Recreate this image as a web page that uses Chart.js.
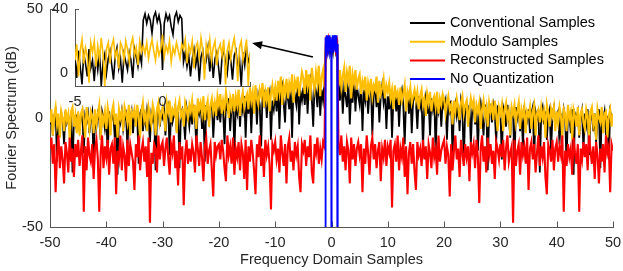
<!DOCTYPE html>
<html><head><meta charset="utf-8">
<script src="https://cdn.jsdelivr.net/npm/chart.js@4.4.1/dist/chart.umd.min.js"></script>
<style>
html,body{margin:0;padding:0;background:#fff;}
#wrap{position:relative;width:623px;height:271px;overflow:hidden;}
#wrap canvas{position:absolute;left:0;top:0;}
</style></head><body>
<div id="wrap"><canvas id="main" width="623" height="271"></canvas><canvas id="inset" width="623" height="271"></canvas></div>
<script>
// ---- sampling grids (frequency axis) ----
const freqStart = -50, freqStep = 0.25;        // main series: -50 .. 50
const noQuantStart = -1.2, noQuantStep = 0.05; // blue series: -1.2 .. 1.2
const insetStart = -5, insetStep = 0.1;        // inset series: -5 .. 5

const seriesLabels = ['Conventional Samples', 'Modulo Samples', 'Reconstructed Samples', 'No Quantization'];
const mainXTicks = [-50, -40, -30, -20, -10, 0, 10, 20, 30, 40, 50];
const mainYTicks = [-50, 0, 50];
const insetXTicks = [-5, 0];
const insetYTicks = [0, 40];

// ---- Conventional samples (dB) ----
const conventional = [
-3,2,-8,1,3,-20,0,-4,2,-1,-12,3,-2,1,-6,2,-25,0,-3,1,
2,-5,0,3,-16,1,-2,2,-7,0,3,-22,1,-4,2,-1,-10,3,0,-5,
1,-18,3,-3,0,2,-9,1,-26,2,-2,3,-5,0,2,-14,1,-1,3,-7,
3,-2,0,-21,2,4,-6,1,-3,4,0,-11,2,-1,3,-24,1,4,-4,2,
0,4,-8,2,5,-17,3,-2,1,5,-6,3,-23,2,4,-1,-10,5,1,-4,
4,-3,6,1,-14,5,2,7,-5,3,-20,6,1,-2,5,7,-9,3,6,-1,
6,-2,8,3,-12,7,4,9,-6,5,8,-16,6,2,9,-4,7,3,10,-9,
8,2,11,-7,9,5,12,-3,10,6,-13,11,7,13,0,9,12,-10,8,4,
11,3,14,-5,12,15,7,-2,16,9,4,13,-9,15,10,6,17,-3,12,8,
14,6,17,2,15,18,9,-4,16,12,5,19,1,13,8,16,35,31,37,30,
34,30,37,31,36,16,8,18,2,14,10,5,17,-3,12,7,19,3,15,10,
6,16,-6,13,8,15,2,12,16,-8,11,14,5,13,-2,10,15,7,12,-5,
10,4,13,-9,9,12,3,11,-4,10,13,6,-12,9,11,2,12,-7,8,11,
7,-5,10,5,9,-14,6,10,2,8,-8,9,4,10,-17,7,3,9,-4,8,
5,8,-10,6,3,8,-18,4,7,1,6,-6,8,4,-21,5,7,0,6,-12,
4,6,-3,5,-15,3,7,1,-8,5,6,-24,3,5,-2,6,2,-11,5,4,
3,-19,5,2,-4,6,1,-9,4,3,-22,5,0,4,-6,3,-13,4,2,-1,
4,-7,2,5,-18,3,0,4,-25,2,5,-3,3,-10,1,4,-16,2,5,-2,
1,3,-12,2,-4,4,0,-21,3,1,-7,4,-26,2,0,3,-9,1,4,-15,
2,-3,4,-17,1,3,-6,2,-11,0,4,-23,2,-1,3,-8,1,-19,3,0,
1];

// ---- Modulo samples (dB) ----
const modulo = [
-2,4,-8,1,5,-3,2,-9,3,0,-6,4,-1,2,-10,3,5,-4,1,-7,
3,-8,2,4,-1,-9,5,0,-5,3,1,-7,4,-3,2,6,-10,1,-2,3,
-5,5,1,-8,3,6,-3,2,-9,4,0,3,-6,5,2,-2,6,-8,3,1,
4,-4,6,1,-9,3,7,-1,2,-6,5,1,-3,6,3,-8,4,7,-2,2,
5,1,-6,7,3,8,-2,4,2,6,-7,5,8,1,3,-4,7,4,0,6,
3,8,1,6,-5,9,4,7,2,10,-1,5,8,-4,6,9,3,7,1,10,
6,11,2,8,4,12,7,0,9,5,11,3,10,6,13,1,8,12,5,9,
11,4,14,8,12,2,15,9,6,13,10,16,5,12,8,14,3,11,15,9,
14,8,17,12,19,6,15,11,18,9,16,13,20,7,17,14,19,10,16,21,
18,11,22,15,20,8,23,17,13,21,16,24,10,19,22,14,33,34,32,33,
33,32,34,33,32,15,22,14,19,23,12,21,17,24,9,20,16,22,13,18,
20,11,17,14,19,8,16,12,18,10,15,13,19,7,17,11,14,18,9,15,
12,16,9,13,4,15,10,12,6,14,8,11,15,3,12,9,14,7,10,13,
8,12,4,10,13,6,9,1,11,7,12,3,8,10,5,12,2,9,6,11,
9,2,7,10,4,6,-3,8,3,9,5,-1,7,10,2,6,8,-4,4,9,
5,8,-2,6,3,7,-5,4,8,1,5,-4,7,3,6,-1,8,2,-6,5,
2,6,-6,4,7,0,3,-8,5,2,6,-2,3,7,-5,4,1,5,-7,3,
1,5,-5,3,6,-8,2,4,-2,5,0,3,-9,6,2,-4,4,1,5,-6,
3,-2,5,1,-9,4,2,-6,6,0,3,-10,4,1,-4,5,-8,2,4,-2,
-5,4,1,-9,3,5,-3,2,-10,4,0,-2,5,-7,2,3,-9,1,4,-4,
2];

// ---- Reconstructed samples (dB) ----
const reconstructed = [
-14,-9,-21,-12,-34,-17,-8,-23,-13,-19,-30,-11,-16,-25,-9,-20,-14,-27,-12,-18,
-10,-22,-15,-8,-43,-13,-24,-9,-17,-20,-12,-28,-14,-10,-19,-43,-16,-8,-23,-13,
-18,-10,-26,-14,-12,-21,-9,-35,-15,-19,-8,-24,-13,-17,-29,-10,-22,-12,-16,-20,
-33,-12,-18,-8,-24,-15,-11,-20,-13,-27,-9,-48,-16,-21,-12,-14,-25,-8,-19,-13,
-11,-22,-14,-9,-18,-26,-12,-16,-8,-23,-15,-31,-11,-19,-13,-40,-17,-10,-21,-14,
-20,-12,-16,-25,-8,-14,-22,-11,-18,-29,-13,-9,-21,-15,-12,-24,-36,-11,-17,-13,
-12,-19,-10,-15,-23,-29,-8,-17,-13,-21,-9,-26,-14,-18,-11,-24,-12,-16,-28,-10,
-33,-13,-20,-10,-16,-24,-35,-12,-18,-8,-22,-14,-27,-10,-17,-13,-21,-42,-12,-15,
-11,-19,-14,-25,-8,-16,-22,-12,-30,-13,-9,-20,-15,-24,-11,-17,-13,-27,-34,-12,
-15,-10,-22,-13,-18,-8,-25,-30,-12,-16,-9,-21,-14,-19,-11,-13,34,31,36,32,
33,32,35,31,34,-12,-17,-8,-20,-13,-24,-11,-15,-30,-9,-19,-12,-22,-14,-11,
-17,-12,-34,-14,-21,-8,-16,-26,-13,-9,-19,-12,-23,-15,-11,-29,-14,-18,-10,-22,
-13,-16,-10,-41,-15,-12,-20,-8,-24,-14,-18,-9,-27,-13,-35,-16,-11,-21,-12,-25,
-33,-11,-17,-14,-22,-10,-19,-13,-28,-12,-16,-23,-9,-18,-14,-26,-8,-20,-15,-12,
-10,-21,-13,-17,-36,-12,-24,-15,-8,-19,-14,-27,-10,-16,-22,-12,-18,-13,-29,-11,
-16,-12,-23,-10,-18,-39,-14,-8,-20,-13,-25,-9,-17,-12,-21,-15,-28,-11,-14,-19,
-12,-18,-10,-24,-14,-8,-20,-16,-13,-48,-10,-22,-15,-12,-26,-11,-17,-13,-21,-9,
-33,-14,-11,-19,-12,-25,-16,-8,-22,-13,-18,-11,-27,-35,-12,-15,-20,-10,-24,-14,
-11,-20,-13,-17,-8,-43,-15,-22,-12,-18,-14,-26,-9,-16,-21,-12,-43,-14,-19,-11,
-18,-12,-24,-8,-15,-21,-13,-28,-11,-17,-30,-14,-20,-12,-25,-8,-16,-13,-34,-12,
-15];

// ---- No quantization (dB), -200 = far below the axis (spectral null) ----
const noQuantization = [
-200,-200,-200,
33,37,31,38,34,30,36,32,38,31,35,37,30,34,38,32,36,31,37,33,30,
-200,
31,36,33,38,30,35,37,32,38,34,31,36,38,30,33,37,31,38,35,32,34,
-200,-200,-200];

// ---- Inset (zoom on -5..5) ----
const insetConventional = [
10,-3,14,4,-7,12,6,-2,15,3,
8,-5,11,2,13,-8,7,12,0,9,
14,5,-4,11,16,3,9,-6,12,7,
2,13,8,-3,15,10,4,12,6,33,
37,31,36,33,25,35,38,32,36,30,
2,31,37,33,36,29,24,35,38,32,
36,34,7,13,4,11,-2,9,15,5,
12,-5,10,14,3,8,16,1,11,-3,
9,13,4,-7,10,15,6,0,12,8,
-4,11,14,2,9,-8,13,5,16,7,
10];
const insetModulo = [
8,18,-2,14,21,6,16,11,-6,19,
13,20,4,17,9,22,12,-8,15,19,
6,17,21,10,14,3,19,16,8,20,
15,7,18,22,11,16,5,20,13,17,
12,19,9,16,21,14,8,18,11,15,
24,10,17,13,20,7,16,12,19,14,
9,18,15,21,6,17,13,20,3,16,
19,10,22,14,-4,18,12,21,8,16,
20,5,15,18,11,21,-7,14,19,9,
17,22,12,-5,16,20,8,14,21,-8,
13];

// ---- styling ----
const COLORS = ['#000000', '#FFBF00', '#FF0000', '#0000FF'];
const FONT = {family: '"Liberation Sans", Arial, Helvetica, sans-serif', size: 14.5};
const TXT = '#262626', AX = '#555555';

function toXY(values, start, step) { return values.map((v, i) => ({x: start + i * step, y: v})); }
function ds(idx, values, start, step, order, width) {
  return {label: seriesLabels[idx], data: toXY(values, start, step), borderColor: COLORS[idx],
    backgroundColor: COLORS[idx], borderWidth: width, pointRadius: 0, tension: 0, fill: false, order: order, clip: 0};
}

const inwardTicks = {
  id: 'inwardTicks',
  beforeDatasetsDraw(chart, args, opts) {
    const {ctx, chartArea: a, scales: {x, y}} = chart;
    ctx.save(); ctx.strokeStyle = AX; ctx.lineWidth = 1;
    ctx.beginPath();
    opts.xt.forEach(v => { const p = Math.round(x.getPixelForValue(v)) + 0.5; ctx.moveTo(p, a.bottom); ctx.lineTo(p, a.bottom - opts.len); });
    opts.yt.forEach(v => { const p = Math.round(y.getPixelForValue(v)) + 0.5; ctx.moveTo(a.left, p); ctx.lineTo(a.left + opts.len, p); });
    ctx.stroke(); ctx.restore();
  }
};

const customLegend = {
  id: 'customLegend',
  afterDraw(chart, args, opts) {
    const {ctx} = chart;
    ctx.save();
    ctx.font = FONT.size + 'px ' + FONT.family;
    ctx.textBaseline = 'middle'; ctx.fillStyle = '#000';
    seriesLabels.forEach((lab, i) => {
      const yy = opts.top + i * opts.rowH;
      ctx.strokeStyle = COLORS[i]; ctx.lineWidth = 2;
      ctx.beginPath(); ctx.moveTo(opts.lineX0, yy); ctx.lineTo(opts.lineX1, yy); ctx.stroke();
      ctx.fillText(lab, opts.textX, yy);
    });
    ctx.restore();
  }
};

const arrowPlugin = {
  id: 'arrowPlugin',
  afterDatasetsDraw(chart, args, opts) {
    const {ctx, scales: {x, y}} = chart;
    const x0 = x.getPixelForValue(opts.from[0]), y0 = y.getPixelForValue(opts.from[1]);
    const x1 = x.getPixelForValue(opts.to[0]), y1 = y.getPixelForValue(opts.to[1]);
    const ang = Math.atan2(y1 - y0, x1 - x0), L = 10, W = 4;
    ctx.save(); ctx.strokeStyle = '#000'; ctx.fillStyle = '#000'; ctx.lineWidth = 1.6;
    ctx.beginPath(); ctx.moveTo(x0, y0); ctx.lineTo(x1 - L * 0.8 * Math.cos(ang), y1 - L * 0.8 * Math.sin(ang)); ctx.stroke();
    ctx.beginPath(); ctx.moveTo(x1, y1);
    ctx.lineTo(x1 - L * Math.cos(ang) + W * Math.sin(ang), y1 - L * Math.sin(ang) - W * Math.cos(ang));
    ctx.lineTo(x1 - L * Math.cos(ang) - W * Math.sin(ang), y1 - L * Math.sin(ang) + W * Math.cos(ang));
    ctx.closePath(); ctx.fill(); ctx.restore();
  }
};

const whiteArea = {
  id: 'whiteArea',
  beforeDraw(chart) {
    const {ctx, chartArea: a} = chart;
    ctx.save(); ctx.fillStyle = '#fff'; ctx.fillRect(a.left, a.top, a.right - a.left, a.bottom - a.top); ctx.restore();
  }
};

function axis(min, max, ticksArr, fitFn, title, titlePad) {
  return {
    type: 'linear', min: min, max: max,
    afterBuildTicks(s) { s.ticks = ticksArr.map(v => ({value: v})); },
    ticks: {font: FONT, color: TXT, padding: 7, maxRotation: 0, autoSkip: false},
    grid: {display: false, drawTicks: false},
    border: {display: true, color: AX, width: 1},
    title: title ? {display: true, text: title, font: FONT, color: TXT, padding: titlePad} : {display: false},
    afterFit(s) { fitFn(s); s.paddingTop = 0; s.paddingBottom = 0; s.paddingLeft = 0; s.paddingRight = 0; }
  };
}

new Chart(document.getElementById('main'), {
  type: 'line',
  data: {datasets: [
    ds(0, conventional, freqStart, freqStep, 3, 1.8),
    ds(1, modulo, freqStart, freqStep, 2, 2.1),
    ds(2, reconstructed, freqStart, freqStep, 1, 2.1),
    ds(3, noQuantization, noQuantStart, noQuantStep, 0, 1.8)
  ]},
  options: {
    responsive: false, animation: false, devicePixelRatio: 1, events: [],
    layout: {padding: {top: 9, right: 10, left: 0, bottom: 0}},
    plugins: {
      legend: {display: false}, tooltip: {enabled: false},
      inwardTicks: {xt: mainXTicks, yt: mainYTicks, len: 5.5},
      customLegend: {top: 23, rowH: 18.7, lineX0: 410, lineX1: 445, textX: 450},
      arrowPlugin: {from: [-3.3, 28], to: [-14.1, 34.4]}
    },
    scales: {
      x: axis(-50, 50, mainXTicks, s => { s.height = 44; }, 'Frequency Domain Samples', {top: 0, bottom: 2}),
      y: axis(-50, 50, mainYTicks, s => { s.width = 50; }, 'Fourier Spectrum (dB)', {top: 3, bottom: 0})
    }
  },
  plugins: [inwardTicks, customLegend, arrowPlugin]
});

new Chart(document.getElementById('inset'), {
  type: 'line',
  data: {datasets: [
    ds(0, insetConventional, insetStart, insetStep, 1, 1.6),
    ds(1, insetModulo, insetStart, insetStep, 0, 1.6)
  ]},
  options: {
    responsive: false, animation: false, devicePixelRatio: 1, events: [],
    layout: {padding: {top: 9, right: 373, left: 0, bottom: 0}},
    plugins: {
      legend: {display: false}, tooltip: {enabled: false},
      inwardTicks: {xt: [-5, 0, 5], yt: insetYTicks, len: 4}
    },
    scales: {
      x: axis(-5, 5, insetXTicks, s => { s.height = 185; }, null),
      y: axis(-8, 40, insetYTicks, s => { s.width = 75; }, null)
    }
  },
  plugins: [whiteArea, inwardTicks]
});
</script>
</body></html>
